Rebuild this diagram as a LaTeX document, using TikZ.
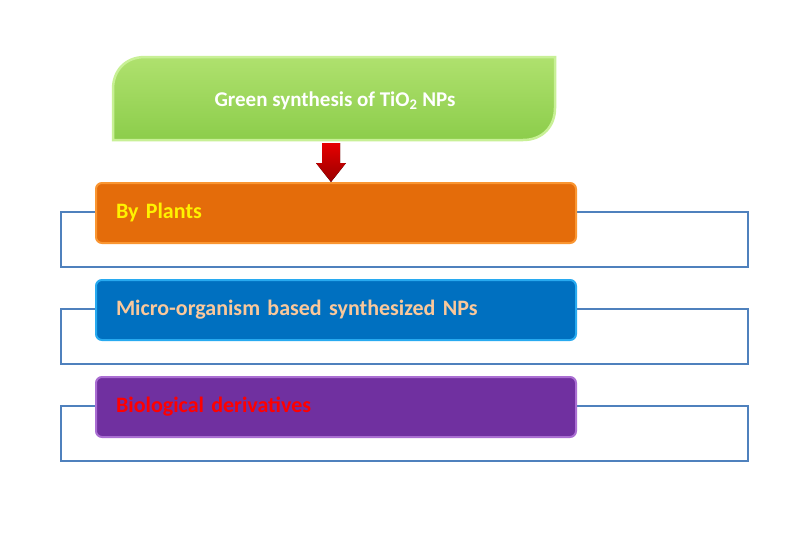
\documentclass[tikz,border=0pt]{standalone}
\usepackage{fontspec}
\setmainfont{Carlito}
\definecolor{outc}{RGB}{79,129,189}
\definecolor{gtop}{RGB}{175,225,110}
\definecolor{gbot}{RGB}{140,205,75}
\definecolor{gedge}{RGB}{200,240,150}
\definecolor{orf}{RGB}{228,108,10}
\definecolor{ore}{RGB}{250,150,50}
\definecolor{blf}{RGB}{0,112,192}
\definecolor{ble}{RGB}{40,170,240}
\definecolor{puf}{RGB}{112,48,160}
\definecolor{pue}{RGB}{170,110,210}
\definecolor{peach}{RGB}{250,200,155}
\begin{document}
\begin{tikzpicture}[x=1pt,y=-1pt,
 outl/.style={draw=outc,line width=1.5pt,fill=none},
 cat/.style={rounded corners=6pt,line width=2pt,minimum width=480pt,minimum height=60pt,anchor=north west,inner xsep=20pt,text width=440pt,align=left,font=\bfseries\fontsize{22}{26}\selectfont}]
\useasboundingbox (0,0) rectangle (802,555);
\fill[white] (0,0) rectangle (802,555);
\draw[outl] (61,212) rectangle (748,267);
\draw[outl] (61,309) rectangle (748,364);
\draw[outl] (61,406) rectangle (748,461);
\path[draw=gedge,line width=2.5pt,top color=gtop,bottom color=gbot]
 (145,57) -- (555,57) -- (555,108) .. controls (555,126) and (543,140) .. (523,140) -- (113,140) -- (113,89) .. controls (113,71) and (125,57) .. (145,57) -- cycle;
\node[text=white,font=\bfseries\fontsize{21}{25}\selectfont] (title) at (335,101) {Green synthesis of TiO\textsubscript{2} NPs};
\fill[top color=red!90!black,bottom color=red!60!black] (322,143) -- (340,143) -- (340,163) -- (346,163) -- (331,182) -- (316,163) -- (322,163) -- cycle;
\node[cat,draw=ore,fill=orf,text=yellow] (plants) at (95,182) {By Plants};
\node[cat,draw=ble,fill=blf,text=peach] (micro) at (95,279) {Micro-organism based synthesized NPs};
\node[cat,draw=pue,fill=puf,text=red] (bio) at (95,376) {Biological derivatives};
\end{tikzpicture}
\end{document}
